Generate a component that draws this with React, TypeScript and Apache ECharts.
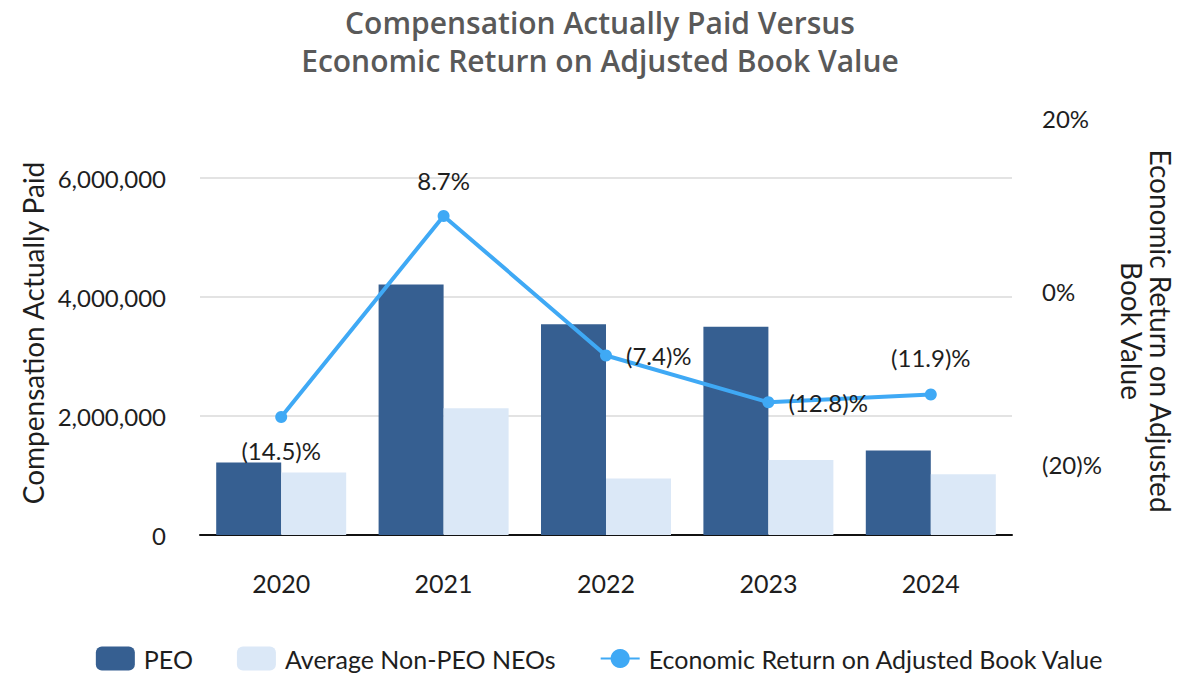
import { useEffect, useRef } from "react";
import * as echarts from "echarts";

// Fiscal years shown on the category axis
const years = ["2020", "2021", "2022", "2023", "2024"];
// Compensation actually paid (USD)
const peoCap = [1220000, 4210000, 3540000, 3500000, 1420000];
const nonPeoCap = [1050000, 2130000, 950000, 1260000, 1020000];
// Economic return on adjusted book value (%)
const economicReturn = [-14.5, 8.7, -7.4, -12.8, -11.9];

const FONT = "Lato, 'Noto Sans', sans-serif";
const TITLE_FONT = "'Open Sans', Lato, sans-serif";
const DARK = "#365f91";
const LIGHT = "#dbe8f7";
const LINE = "#3fa9f5";
const INK = "#1e1e1e";

const pct = (v: number) => (v < 0 ? `(${Math.abs(v).toFixed(1)})%` : `${v.toFixed(1)}%`);
const axisPct = (v: number) => (v < 0 ? `(${Math.abs(v)})%` : `${v}%`);

// where each point's value label sits relative to its marker
const labelPlacement: [string, number][] = [
  ["bottom", 15],
  ["top", 17],
  ["right", 14],
  ["right", 14],
  ["top", 19],
];

export default function App() {
  const ref = useRef<HTMLDivElement>(null);

  useEffect(() => {
    if (!ref.current) return;
    const chart = echarts.init(ref.current, undefined, { renderer: "svg" });
    const gridLR = { left: 200, right: 188 };
    chart.setOption({
      animation: false,
      backgroundColor: "#ffffff",
      textStyle: { fontFamily: FONT },
      grid: [
        { ...gridLR, top: 178, bottom: 165 },
        { ...gridLR, top: 118, bottom: 62 },
      ],
      xAxis: [
        {
          type: "category",
          gridIndex: 0,
          data: years,
          axisLine: { lineStyle: { color: "#111", width: 2 } },
          axisTick: { show: false },
          axisLabel: { fontSize: 25, color: INK, margin: 35, fontFamily: FONT },
        },
        {
          type: "category",
          gridIndex: 1,
          data: years,
          show: false,
        },
      ],
      yAxis: [
        {
          type: "value",
          gridIndex: 0,
          min: 0,
          max: 6000000,
          interval: 2000000,
          axisLine: { show: false },
          axisTick: { show: false },
          axisLabel: {
            fontSize: 24,
            color: INK,
            margin: 34,
            fontFamily: FONT,
            formatter: (v: number) => v.toLocaleString("en-US"),
          },
          splitLine: { lineStyle: { color: "#e3e3e3", width: 2 } },
        },
        {
          type: "value",
          gridIndex: 1,
          position: "right",
          min: -40,
          max: 20,
          interval: 20,
          axisLine: { show: false },
          axisTick: { show: false },
          splitLine: { show: false },
          axisLabel: {
            showMinLabel: false,
            fontSize: 24,
            color: INK,
            margin: 30,
            fontFamily: FONT,
            formatter: (v: number) => (v === -40 ? "" : axisPct(v)),
          },
        },
      ],
      legend: {
        left: "center",
        top: 646,
        padding: 0,
        itemWidth: 39,
        itemHeight: 24,
        itemGap: 44,
        textStyle: { fontSize: 25, color: INK, fontFamily: FONT, padding: [0, 0, 0, 4] },
        data: ["PEO", "Average Non-PEO NEOs", "Economic Return on Adjusted Book Value"],
      },
      series: [
        {
          name: "PEO",
          type: "bar",
          xAxisIndex: 0,
          yAxisIndex: 0,
          data: peoCap,
          barWidth: 65,
          barGap: "0%",
          itemStyle: { color: DARK },
        },
        {
          name: "Average Non-PEO NEOs",
          type: "bar",
          xAxisIndex: 0,
          yAxisIndex: 0,
          data: nonPeoCap,
          barWidth: 65,
          barGap: "0%",
          itemStyle: { color: LIGHT },
        },
        {
          name: "Economic Return on Adjusted Book Value",
          type: "line",
          xAxisIndex: 1,
          yAxisIndex: 1,
          symbol: "circle",
          symbolSize: 12,
          lineStyle: { color: LINE, width: 4 },
          itemStyle: { color: LINE },
          z: 5,
          data: economicReturn.map((v, i) => ({
            value: v,
            label: {
              show: true,
              position: labelPlacement[i][0],
              distance: labelPlacement[i][1],
              formatter: () => pct(v),
              fontSize: 24,
              color: INK,
              fontFamily: FONT,
            },
          })),
        },
      ],
      graphic: [
        {
          type: "text",
          x: 600,
          y: 41,
          style: {
            text: "Compensation Actually Paid Versus\nEconomic Return on Adjusted Book Value",
            fontSize: 30,
            fontWeight: 600,
            fontFamily: TITLE_FONT,
            lineHeight: 38,
            fill: "#595959",
            textAlign: "center",
            textVerticalAlign: "middle",
          },
        },
        {
          type: "text",
          x: 33,
          y: 333,
          rotation: Math.PI / 2,
          style: {
            text: "Compensation Actually Paid",
            fontSize: 28,
            fontFamily: FONT,
            fill: INK,
            textAlign: "center",
            textVerticalAlign: "middle",
          },
        },
        {
          type: "text",
          x: 1146,
          y: 331,
          rotation: -Math.PI / 2,
          style: {
            text: "Economic Return on Adjusted\nBook Value",
            fontSize: 28,
            fontFamily: FONT,
            lineHeight: 29,
            fill: INK,
            textAlign: "center",
            textVerticalAlign: "middle",
          },
        },
      ],
    });
    return () => chart.dispose();
  }, []);

  return (
    <div
      ref={ref}
      style={{ position: "absolute", left: 0, top: 0, width: 1200, height: 700 }}
    />
  );
}
